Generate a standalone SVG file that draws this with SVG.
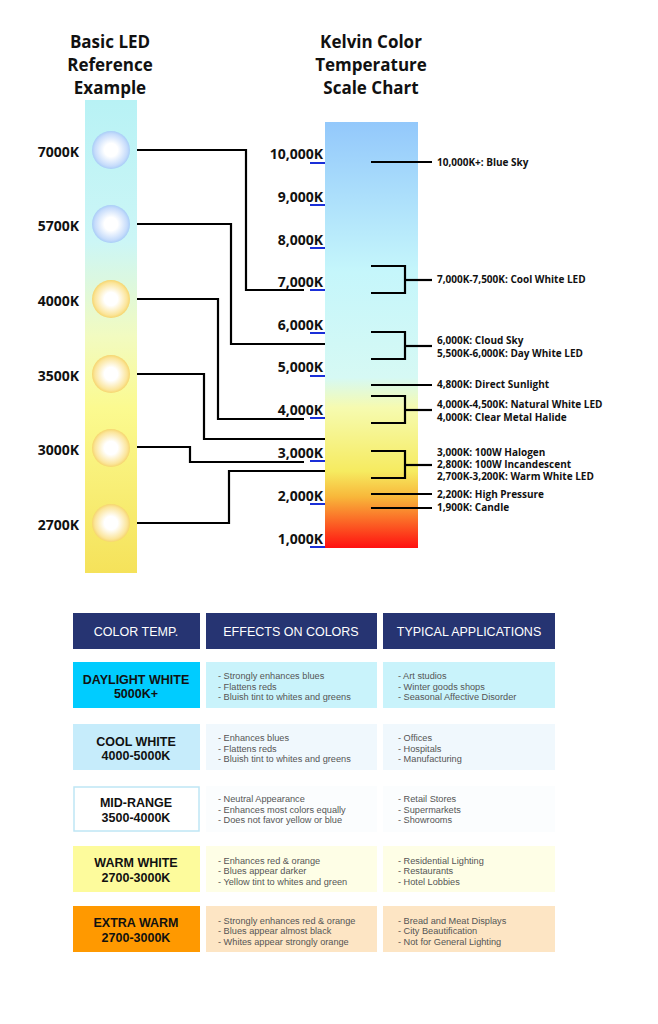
<svg xmlns="http://www.w3.org/2000/svg" width="658" height="1024" viewBox="0 0 658 1024">
<style>
.t{font-family:"Open Sans","Liberation Sans",sans-serif;font-weight:bold;fill:#111}
.h{font-size:17px;text-anchor:middle}
.k{font-size:14px;text-anchor:end}
.r{font-size:10px}
.s{font-family:"Liberation Sans",Arial,sans-serif;font-size:9.2px;fill:#555}
.hd{font-family:"Liberation Sans",Arial,sans-serif;font-size:12.5px;fill:#fff;text-anchor:middle}
.c1{font-family:"Liberation Sans",Arial,sans-serif;font-weight:bold;font-size:12.5px;fill:#111;text-anchor:middle}
.ln{fill:none;stroke:#000;stroke-width:2.2}
.u{stroke:#1a2fd8;stroke-width:2}
</style>
<defs>
<linearGradient id="lb" x1="0" y1="0" x2="0" y2="1">
<stop offset="0" stop-color="#b8f2f5"/><stop offset="0.3" stop-color="#ccf6f6"/><stop offset="0.5" stop-color="#f2fbc0"/><stop offset="0.65" stop-color="#fbfa90"/><stop offset="1" stop-color="#f5e25a"/>
</linearGradient>
<linearGradient id="rb" x1="0" y1="0" x2="0" y2="1">
<stop offset="0" stop-color="#93c8fb"/><stop offset="0.35" stop-color="#c5f6fb"/><stop offset="0.6" stop-color="#d6f9f4"/><stop offset="0.67" stop-color="#f6fbb0"/><stop offset="0.82" stop-color="#f6eb60"/><stop offset="0.88" stop-color="#f8b73a"/><stop offset="1" stop-color="#ff1010"/>
</linearGradient>
<radialGradient id="cb"><stop offset="0.35" stop-color="#fff"/><stop offset="0.85" stop-color="#c6dcfb"/><stop offset="1" stop-color="#a9cdf7"/></radialGradient>
<radialGradient id="cy"><stop offset="0.35" stop-color="#fff"/><stop offset="0.85" stop-color="#fbe59a"/><stop offset="1" stop-color="#f6d56e"/></radialGradient>
</defs>
<g id="titles">
<text class="t h" x="110" y="48">Basic LED</text>
<text class="t h" x="110" y="71">Reference</text>
<text class="t h" x="110" y="94">Example</text>
<text class="t h" x="371" y="48">Kelvin Color</text>
<text class="t h" x="371" y="71">Temperature</text>
<text class="t h" x="371" y="94">Scale Chart</text>
</g>
<g id="led-bar">
<rect x="85" y="100" width="52" height="473" fill="url(#lb)"/>
<circle cx="111" cy="150" r="19" fill="url(#cb)"/>
<circle cx="111" cy="224" r="19" fill="url(#cb)"/>
<circle cx="111" cy="299" r="19" fill="url(#cy)"/>
<circle cx="111" cy="374" r="19" fill="url(#cy)"/>
<circle cx="111" cy="448" r="19" fill="url(#cy)"/>
<circle cx="111" cy="523" r="19" fill="url(#cy)"/>
<text class="t k" x="79" y="157">7000K</text>
<text class="t k" x="79" y="231">5700K</text>
<text class="t k" x="79" y="306">4000K</text>
<text class="t k" x="79" y="381">3500K</text>
<text class="t k" x="79" y="455">3000K</text>
<text class="t k" x="79" y="530">2700K</text>
</g>
<g id="kelvin-bar">
<rect x="325" y="122" width="93" height="426" fill="url(#rb)"/>
<g class="t k">
<text x="323" y="159">10,000K</text><text x="323" y="202">9,000K</text><text x="323" y="245">8,000K</text><text x="323" y="287">7,000K</text><text x="323" y="330">6,000K</text><text x="323" y="372">5,000K</text><text x="323" y="415">4,000K</text><text x="323" y="458">3,000K</text><text x="323" y="501">2,000K</text><text x="323" y="544">1,000K</text>
</g>
<g class="u">
<line x1="310" y1="163" x2="325" y2="163"/><line x1="310" y1="205" x2="325" y2="205"/><line x1="310" y1="248" x2="325" y2="248"/><line x1="310" y1="290" x2="325" y2="290"/><line x1="310" y1="333" x2="325" y2="333"/><line x1="310" y1="376" x2="325" y2="376"/><line x1="310" y1="418" x2="325" y2="418"/><line x1="310" y1="461" x2="325" y2="461"/><line x1="310" y1="504" x2="325" y2="504"/><line x1="310" y1="547" x2="325" y2="547"/>
</g>
</g>
<g id="connectors">
<polyline class="ln" points="137,150 246,150 246,290 304,290"/>
<polyline class="ln" points="137,224 231,224 231,344 325,344"/>
<polyline class="ln" points="137,299 218,299 218,419 304,419"/>
<polyline class="ln" points="137,374 204,374 204,439 325,439"/>
<polyline class="ln" points="137,447 190,447 190,462 304,462"/>
<polyline class="ln" points="137,523 229,523 229,471 325,471"/>
<line class="ln" x1="371" y1="162" x2="432" y2="162"/>
<polyline class="ln" points="371,266 405,266 405,293 371,293"/><line class="ln" x1="405" y1="280" x2="432" y2="280"/>
<polyline class="ln" points="371,332 405,332 405,359 371,359"/><line class="ln" x1="405" y1="346" x2="432" y2="346"/>
<line class="ln" x1="371" y1="385" x2="432" y2="385"/>
<polyline class="ln" points="371,396 405,396 405,423 371,423"/><line class="ln" x1="405" y1="410" x2="432" y2="410"/>
<polyline class="ln" points="371,451 405,451 405,478 371,478"/><line class="ln" x1="405" y1="465" x2="432" y2="465"/>
<line class="ln" x1="371" y1="494" x2="432" y2="494"/>
<line class="ln" x1="371" y1="508" x2="432" y2="508"/>
</g>
<g id="kelvin-labels" class="t r">
<text x="437" y="166">10,000K+: Blue Sky</text>
<text x="437" y="283">7,000K-7,500K: Cool White LED</text>
<text x="437" y="344">6,000K: Cloud Sky</text>
<text x="437" y="357">5,500K-6,000K: Day White LED</text>
<text x="437" y="388">4,800K: Direct Sunlight</text>
<text x="437" y="408">4,000K-4,500K: Natural White LED</text>
<text x="437" y="421">4,000K: Clear Metal Halide</text>
<text x="437" y="456">3,000K: 100W Halogen</text>
<text x="437" y="468">2,800K: 100W Incandescent</text>
<text x="437" y="480">2,700K-3,200K: Warm White LED</text>
<text x="437" y="498">2,200K: High Pressure</text>
<text x="437" y="511">1,900K: Candle</text>
</g>
<g id="table-header">
<rect x="73" y="613" width="127" height="36" fill="#263472"/>
<rect x="206" y="613" width="171" height="36" fill="#263472"/>
<rect x="383" y="613" width="172" height="36" fill="#263472"/>
<text class="hd" x="136" y="636">COLOR TEMP.</text>
<text class="hd" x="291" y="636">EFFECTS ON COLORS</text>
<text class="hd" x="469" y="636">TYPICAL APPLICATIONS</text>
</g>
<g id="row-daylight">
<rect x="73" y="662" width="127" height="46" fill="#00ccff"/>
<rect x="206" y="662" width="171" height="46" fill="#c9f3fb"/>
<rect x="383" y="662" width="172" height="46" fill="#c9f3fb"/>
<text class="c1" x="136" y="684">DAYLIGHT WHITE</text><text class="c1" x="136" y="698">5000K+</text>
<text class="s" x="218" y="679">- Strongly enhances blues</text><text class="s" x="218" y="690">- Flattens reds</text><text class="s" x="218" y="700">- Bluish tint to whites and greens</text>
<text class="s" x="398" y="679">- Art studios</text><text class="s" x="398" y="690">- Winter goods shops</text><text class="s" x="398" y="700">- Seasonal Affective Disorder</text>
</g>
<g id="row-cool">
<rect x="73" y="724" width="127" height="46" fill="#c6ecfb"/>
<rect x="206" y="724" width="171" height="46" fill="#f0f8fd"/>
<rect x="383" y="724" width="172" height="46" fill="#f0f8fd"/>
<text class="c1" x="136" y="746">COOL WHITE</text><text class="c1" x="136" y="760">4000-5000K</text>
<text class="s" x="218" y="741">- Enhances blues</text><text class="s" x="218" y="752">- Flattens reds</text><text class="s" x="218" y="762">- Bluish tint to whites and greens</text>
<text class="s" x="398" y="741">- Offices</text><text class="s" x="398" y="752">- Hospitals</text><text class="s" x="398" y="762">- Manufacturing</text>
</g>
<g id="row-mid">
<rect x="74" y="787" width="125" height="44" fill="#fff" stroke="#bfe6f5" stroke-width="1.5"/>
<rect x="206" y="786" width="171" height="46" fill="#fbfdfe"/>
<rect x="383" y="786" width="172" height="46" fill="#fbfdfe"/>
<text class="c1" x="136" y="807">MID-RANGE</text><text class="c1" x="136" y="822">3500-4000K</text>
<text class="s" x="218" y="802">- Neutral Appearance</text><text class="s" x="218" y="813">- Enhances most colors equally</text><text class="s" x="218" y="823">- Does not favor yellow or blue</text>
<text class="s" x="398" y="802">- Retail Stores</text><text class="s" x="398" y="813">- Supermarkets</text><text class="s" x="398" y="823">- Showrooms</text>
</g>
<g id="row-warm">
<rect x="73" y="846" width="127" height="46" fill="#fdfb9c"/>
<rect x="206" y="846" width="171" height="46" fill="#fefee6"/>
<rect x="383" y="846" width="172" height="46" fill="#fefee6"/>
<text class="c1" x="136" y="867">WARM WHITE</text><text class="c1" x="136" y="882">2700-3000K</text>
<text class="s" x="218" y="864">- Enhances red &amp; orange</text><text class="s" x="218" y="874">- Blues appear darker</text><text class="s" x="218" y="885">- Yellow tint to whites and green</text>
<text class="s" x="398" y="864">- Residential Lighting</text><text class="s" x="398" y="874">- Restaurants</text><text class="s" x="398" y="885">- Hotel Lobbies</text>
</g>
<g id="row-extra">
<rect x="73" y="906" width="127" height="46" fill="#ff9900"/>
<rect x="206" y="906" width="171" height="46" fill="#fde5c4"/>
<rect x="383" y="906" width="172" height="46" fill="#fde5c4"/>
<text class="c1" x="136" y="927">EXTRA WARM</text><text class="c1" x="136" y="942">2700-3000K</text>
<text class="s" x="218" y="924">- Strongly enhances red &amp; orange</text><text class="s" x="218" y="934">- Blues appear almost black</text><text class="s" x="218" y="945">- Whites appear strongly orange</text>
<text class="s" x="398" y="924">- Bread and Meat Displays</text><text class="s" x="398" y="934">- City Beautification</text><text class="s" x="398" y="945">- Not for General Lighting</text>
</g>
</svg>
